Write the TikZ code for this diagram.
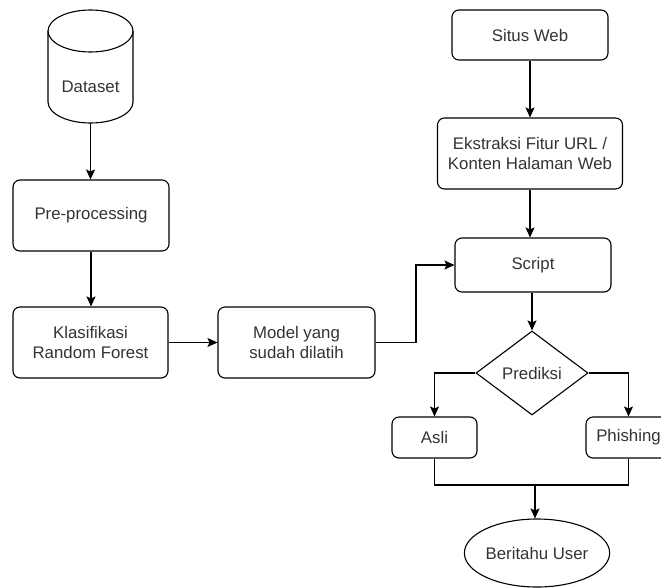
\documentclass[tikz,border=0pt]{standalone}
\usepackage{fontspec}
\setmainfont{Liberation Sans}
\usetikzlibrary{shapes.geometric,arrows.meta}

\begin{document}
\begin{tikzpicture} [x=1pt,y=-1pt,
  font=\fontsize{16.8}{20}\selectfont,
  every node/.style={text=black!80},
  box/.style={draw=black, line width=1.1pt, rounded corners=7pt, align=center, inner sep=0pt},
  arr/.style={line width=1.1pt, -{Stealth[length=10pt,width=9pt,inset=2pt]}},
  line/.style={line width=1.1pt}]

\useasboundingbox (0,0) rectangle (661,587);
%\draw [step=50, dotted, thin] (0,0) grid (661,587);

% left column
\node (data) [minimum width=85, minimum height=113, inner sep=0pt] at (90.5,66.5) {};
\draw [line] (90.5,31) ellipse [x radius=42.5, y radius=21];
\draw [line] (48,31) -- (48,102) arc [start angle=180, end angle=0, x radius=42.5, y radius=21] -- (133,31);
\node (datatxt) at (90.5,87) {Dataset};
\node (prep) [box, minimum width=156, minimum height=71] at (91,215.5) {Pre-processing};
\node (klas) [box, minimum width=155, minimum height=71] at (90.5,342.5) {Klasifikasi\\Random Forest};
\node (model) [box, minimum width=157, minimum height=71] at (296.5,342.5) {Model yang\\sudah dilatih};

% right column
\node (situs) [box, minimum width=156, minimum height=50] at (530,35) {Situs Web};
\node (ekstr) [box, minimum width=185, minimum height=71] at (530,153.5) {Ekstraksi Fitur URL /\\Konten Halaman Web};
\node (script) [box, minimum width=156, minimum height=54] at (533,265) {Script};
\node (pred) [draw=black, line width=1.1pt, diamond, minimum width=112, minimum height=84, inner sep=0pt] at (532,373) {Prediksi};
\node (asli) [box, minimum width=85, minimum height=41] at (434.5,437.5) {Asli};
\node (phish) [box, minimum width=85, minimum height=41] at (628.5,437.5) {Phishing};
\node (user) [draw=black, line width=1.1pt, ellipse, minimum width=140, minimum height=68, inner sep=0pt] at (537,553) {Beritahu User};

\coordinate (turn) at (416,342.5);
\coordinate (join) at (535,485);

\draw [arr] (data.south) -- (data.south |- prep.north);
\draw [arr] (prep.south) -- (prep.south |- klas.north);
\draw [arr] (klas.east) -- (model.west);
\draw [arr] (model.east) -- (turn) |- (script.west);

\draw [arr] (situs.south) -- (situs.south |- ekstr.north);
\draw [arr] (ekstr.south) -- (ekstr.south |- script.north);
\draw [arr] (script.south -| pred.north) -- (pred.north);
\draw [arr] (pred.west) -| (asli.north);
\draw [arr] (pred.east) -| (phish.north);
\draw [line] (asli.south) |- (join) -| (phish.south);
\draw [arr] (join) -- (join |- user.north);

\end{tikzpicture}
\end{document}
